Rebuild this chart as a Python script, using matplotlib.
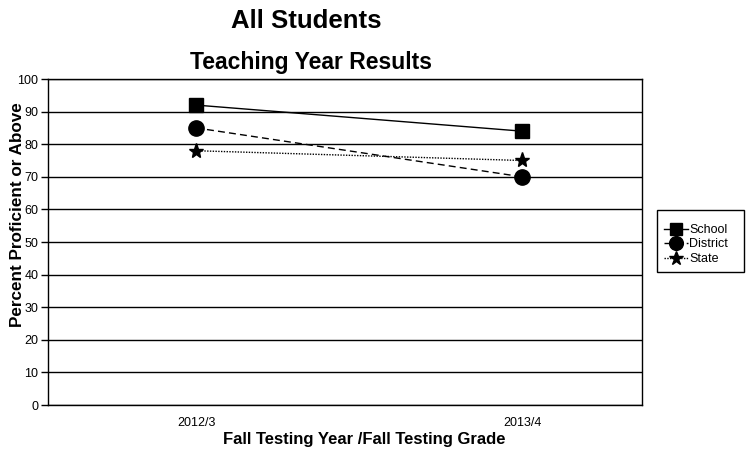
import matplotlib
matplotlib.use("Agg")
import matplotlib.pyplot as plt
from matplotlib.patches import Rectangle

plt.rcParams['font.family'] = ['Liberation Sans', 'DejaVu Sans']

categories = ["2012/3", "2013/4"]
school = [92, 84]
district = [85, 70]
state = [78, 75]
yticks = [0, 10, 20, 30, 40, 50, 60, 70, 80, 90, 100]

fig = plt.figure(figsize=(7.49, 4.54), dpi=100)
W, H = 749, 454
left, right, top, bottom = 48, 642, 79, 405
ax = fig.add_axes([left / W, 1 - bottom / H, (right - left) / W, (bottom - top) / H])

x = list(range(len(categories)))
ax.plot(x, school, color='black', lw=1.0, ls='-', marker='s', ms=10, label='School', zorder=3)
ax.plot(x, district, color='black', lw=1.0, ls=(0, (5, 3)), marker='o', ms=11, label='District', zorder=3)
ax.plot(x, state, color='black', lw=1.0, ls=(0, (1, 1)), marker='*', ms=11, label='State', zorder=3)

ax.set_xlim(-0.454, 1.368)
ax.set_ylim(0, 100)
ax.set_yticks(yticks)
ax.set_xticks(x)
ax.set_xticklabels(categories, fontsize=9)
ax.tick_params(axis='x', length=0, pad=9)
ax.tick_params(axis='y', length=5, width=1, labelsize=9, pad=2, direction='out')
ax.yaxis.grid(True, color='black', lw=1.0)
ax.set_axisbelow(True)
for s in ax.spines.values():
    s.set_color('black')
    s.set_linewidth(1.0)

fig.text(364 / W, 1 - 444 / H, "Fall Testing Year /Fall Testing Grade", ha='center', va='baseline',
         fontsize=12, fontweight='bold')
fig.text(17.5 / W, 1 - 215 / H, "Percent Proficient or Above", ha='center', va='center',
         rotation=90, fontsize=12.3, fontweight='bold')

fig.text(306 / W, 1 - 21 / H, "All Students", ha='center', va='center', fontsize=18.5, fontweight='bold')
fig.text(311 / W, 1 - 62 / H, "Teaching Year Results", ha='center', va='center', fontsize=16.5, fontweight='bold')

# legend frame
lx0, lx1, ly0, ly1 = 657, 744, 210, 272
fig.patches.append(Rectangle((lx0 / W, 1 - ly1 / H), (lx1 - lx0) / W, (ly1 - ly0) / H,
                             transform=fig.transFigure, fill=False, edgecolor='black', lw=1.0))
leg = fig.legend(loc='upper left', bbox_to_anchor=(lx0 / W, 1 - 217 / H), fontsize=9,
                 frameon=False, handlelength=1.9,
                 handletextpad=0.15, borderpad=0.55, labelspacing=0.2, markerscale=0.9,
                 borderaxespad=0)

fig.savefig("out.png", dpi=100)
